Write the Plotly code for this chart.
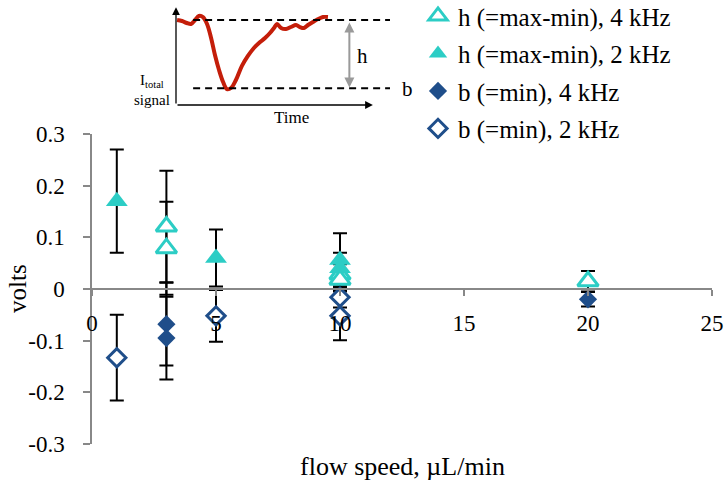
import plotly.graph_objects as go

# ---------------- data ----------------
h4_x = [3, 3, 10, 10, 20]
h4_y = [0.121, 0.079, 0.028, 0.018, 0.015]
h4_err = [0.108, 0.090, 0.020, 0.020, 0.020]

h2_x = [1, 5, 10, 10]
h2_y = [0.170, 0.060, 0.056, 0.040]
h2_err = [0.100, 0.055, 0.052, 0.030]

b4_x = [3, 3, 20]
b4_y = [-0.068, -0.095, -0.020]
b4_err = [0.080, 0.080, 0.014]

b2_x = [1, 5, 10, 10]
b2_y = [-0.133, -0.052, -0.016, -0.052]
b2_err = [0.083, 0.050, 0.020, 0.047]

series_names = ["h (=max-min), 4 kHz", "h (=max-min), 2 kHz", "b (=min), 4 kHz", "b (=min), 2 kHz"]

x_ticks = [0, 5, 10, 15, 20, 25]
y_ticks = [-0.3, -0.2, -0.1, 0, 0.1, 0.2, 0.3]
y_ticktext = ["-0.3", "-0.2", "-0.1", "0", "0.1", "0.2", "0.3"]

# schematic inset (arbitrary units 0-100)
sig_t = [0.5, 2.8, 5.1, 7.0, 8.9, 10.7, 12.6, 14.5, 16.4, 18.2, 20.1, 22.0, 23.8, 25.7, 28.0,
         30.8, 33.6, 36.4, 39.3, 41.6, 43.9, 45.8, 47.2, 49.1, 51.4, 53.7, 56.1, 57.9, 59.8,
         61.7, 64.0, 66.4, 68.7, 71.0]
sig_v = [89.5, 88.4, 86.3, 85.3, 89.5, 93.7, 92.6, 85.3, 70.5, 52.6, 36.8, 24.2, 16.8, 17.9, 26.3,
         41.1, 51.6, 60.0, 66.3, 70.5, 75.8, 81.1, 85.3, 81.1, 80.0, 82.1, 84.2, 82.1, 81.1,
         84.2, 87.4, 90.5, 92.6, 92.6]
level_max = 89.5
level_min = 17.5

# ---------------- style ----------------
TURQ = "#2CCDC5"
BLUE = "#1F4E8A"
FONT = "Liberation Serif"

fig = go.Figure()

# error bars first (under markers)
for xs, ys, es in [(h4_x, h4_y, h4_err), (h2_x, h2_y, h2_err), (b4_x, b4_y, b4_err), (b2_x, b2_y, b2_err)]:
    fig.add_trace(go.Scatter(
        x=xs, y=ys, mode="markers", marker=dict(size=1, opacity=0),
        error_y=dict(type="data", array=es, visible=True, color="black", thickness=2, width=7),
        showlegend=False, hoverinfo="skip"))

fig.add_trace(go.Scatter(
    x=h4_x, y=h4_y, mode="markers", name=series_names[0], legendgroup="g1",
    marker=dict(symbol="triangle-up", size=18, color="white", line=dict(color=TURQ, width=3))))
fig.add_trace(go.Scatter(
    x=h2_x, y=h2_y, mode="markers", name=series_names[1], legendgroup="g2",
    marker=dict(symbol="triangle-up", size=19, color=TURQ, line=dict(width=0))))
fig.add_trace(go.Scatter(
    x=b4_x, y=b4_y, mode="markers", name=series_names[2], legendgroup="g3",
    marker=dict(symbol="diamond", size=14, color=BLUE, line=dict(width=0))))
fig.add_trace(go.Scatter(
    x=b2_x, y=b2_y, mode="markers", name=series_names[3], legendgroup="g4",
    marker=dict(symbol="diamond", size=14, color="white", line=dict(color=BLUE, width=3))))

# inset schematic
fig.add_trace(go.Scatter(x=sig_t, y=sig_v, mode="lines", xaxis="x2", yaxis="y2",
                         line=dict(color="#C41E0A", width=4, shape="spline"),
                         showlegend=False, hoverinfo="skip"))
for lvl in [level_max, level_min]:
    fig.add_trace(go.Scatter(x=[8, 100], y=[lvl, lvl], mode="lines", xaxis="x2", yaxis="y2",
                             line=dict(color="black", width=2, dash="7px,5px"),
                             showlegend=False, hoverinfo="skip"))

ann = []
# inset axes arrows
ann.append(dict(x=0, y=103, ax=0, ay=0, xref="x2", yref="y2", axref="x2", ayref="y2",
                showarrow=True, arrowhead=2, arrowsize=1.2, arrowwidth=1.3, arrowcolor="black", text=""))
ann.append(dict(x=92, y=0, ax=0, ay=0, xref="x2", yref="y2", axref="x2", ayref="y2",
                showarrow=True, arrowhead=2, arrowsize=1.2, arrowwidth=1.3, arrowcolor="black", text=""))
# grey double arrow
ann.append(dict(x=81, y=level_min + 1, ax=81, ay=level_max - 1, xref="x2", yref="y2", axref="x2", ayref="y2",
                showarrow=True, arrowhead=2, startarrowhead=2, arrowside="end+start", arrowsize=1,
                arrowwidth=2, arrowcolor="#9A9A9A", text=""))
ann.append(dict(x=87, y=52, xref="x2", yref="y2", text="h", showarrow=False,
                font=dict(family=FONT, size=21, color="black")))
ann.append(dict(x=108, y=17, xref="x2", yref="y2", text="b", showarrow=False,
                font=dict(family=FONT, size=21, color="black")))
ann.append(dict(x=54, y=-13, xref="x2", yref="y2", text="Time", showarrow=False,
                font=dict(family=FONT, size=17, color="black")))
ann.append(dict(x=-11, y=16, xref="x2", yref="y2", text="I<sub>total</sub><br>signal", showarrow=False,
                font=dict(family=FONT, size=15, color="black"), align="center"))

PH = 499 - 5 - 55
ytop = (444 - 134) / PH
zero_pos = ytop / 2

# axis titles
ann.append(dict(x=0.5, y=-0.089, xref="paper", yref="paper", text="flow speed, µL/min",
                showarrow=False, font=dict(family=FONT, size=26, color="black")))
ann.append(dict(x=(17 - 92) / 620, y=zero_pos, xref="paper", yref="paper", text="volts", textangle=-90,
                xanchor="center", yanchor="middle",
                showarrow=False, font=dict(family=FONT, size=25, color="black")))

# inset axis window
ins_x0, ins_x1 = -25, 112
ins_y0, ins_y1 = -20, 105

fig.update_layout(
    template="none",
    width=724, height=499,
    margin=dict(l=92, r=12, t=5, b=55, autoexpand=False),
    paper_bgcolor="white", plot_bgcolor="white",
    font=dict(family=FONT, size=23, color="black"),
    xaxis=dict(range=[0, 25], tickvals=x_ticks, anchor="free", position=zero_pos,
               showline=True, linecolor="#888", linewidth=1.5, ticks="outside", ticklen=6,
               tickcolor="#888", tickwidth=1.5, showgrid=False, zeroline=False, automargin=False,
               ticklabelstandoff=8, tickfont=dict(family=FONT, size=23, color="black")),
    yaxis=dict(range=[-0.3, 0.3], domain=[0, ytop], tickvals=y_ticks, ticktext=y_ticktext,
               showline=True, linecolor="#888", linewidth=1.5, ticks="outside", ticklen=7,
               tickcolor="#888", tickwidth=1.5, showgrid=False, zeroline=False, automargin=False,
               ticklabelstandoff=14, tickfont=dict(family=FONT, size=23, color="black")),
    xaxis2=dict(domain=[(122.5 - 92) / 620, (415.7 - 92) / 620], range=[ins_x0, ins_x1], visible=False,
                anchor="y2", fixedrange=True, automargin=False),
    yaxis2=dict(domain=[(444 - 124) / PH, (444 - 5.25) / PH], range=[ins_y0, ins_y1], visible=False,
                anchor="x2", fixedrange=True, automargin=False),
    legend=dict(x=(418 - 92) / 620, y=1.027, xanchor="left", yanchor="top",
                traceorder="grouped", tracegroupgap=2, bgcolor="rgba(0,0,0,0)", borderwidth=0,
                font=dict(family=FONT, size=25, color="black"), itemwidth=30),
    annotations=ann,
    showlegend=True,
)

fig.write_html("out.html")
